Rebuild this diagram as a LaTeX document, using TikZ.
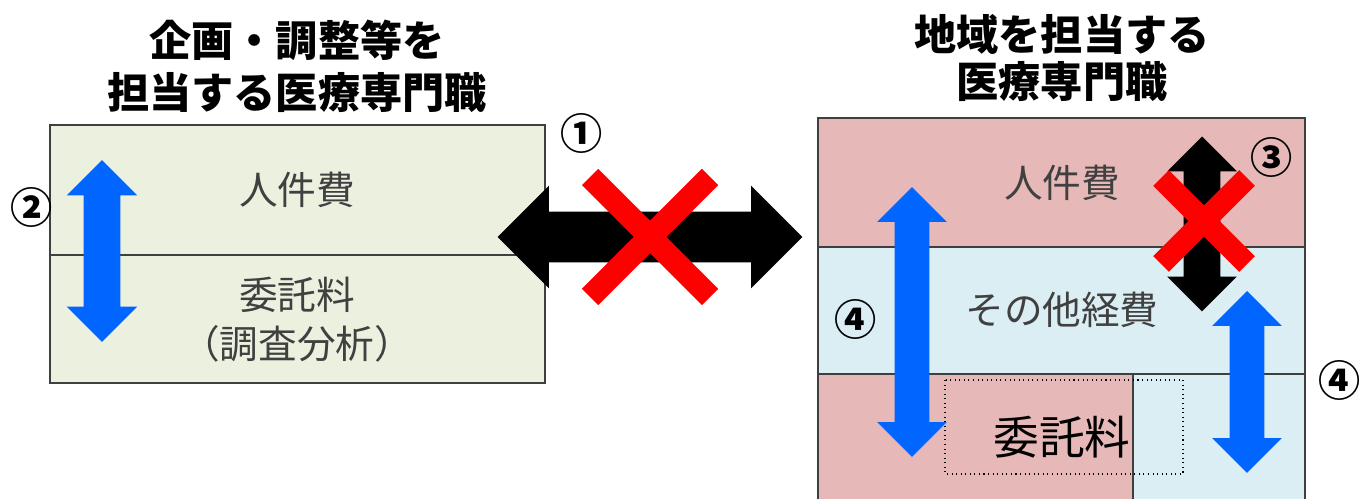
\documentclass[tikz,border=0pt]{standalone}
\usepackage{fontspec}
\setmainfont{Noto Sans CJK JP}
\usetikzlibrary{shapes.arrows,positioning}
\definecolor{kikaku}{HTML}{EBF0DF}
\definecolor{jinken}{HTML}{E6B8B7}
\definecolor{sonota}{HTML}{DAEEF3}
\definecolor{framegray}{HTML}{3F3F3F}
\definecolor{textgray}{HTML}{404040}
\definecolor{arrowblue}{HTML}{0066FF}

\begin{document}
\begin{tikzpicture}[x=0.02cm, y=-0.02cm]
        \tikzstyle{frame}=[draw=framegray, line width=1.1pt]
        \tikzstyle{cost}=[text=textgray, font=\fontsize{22}{28}\selectfont, align=center]
        \tikzstyle{title}=[font=\bfseries\fontsize{24}{29.5}\selectfont, align=center]
        \tikzstyle{num}=[font=\bfseries\fontsize{24}{24}\selectfont, inner sep=0pt]
        \tikzstyle{blockarrow}=[double arrow, draw=none, inner sep=0pt, double arrow tip angle=90]
        \tikzstyle{cross}=[draw=red, line width=0.44cm]
        \useasboundingbox (0,0) rectangle (1359,499);

        % left: planning staff
        \node[title] (titleL) at (297,66) {企画・調整等を\\担当する医療専門職};
        \fill[kikaku] (50,125) rectangle (545,383);
        \draw[frame] (50,125) rectangle (545,383);
        \draw[frame] (50,255) -- (545,255);
        \node[cost] (jinkenL) at (297,190) {人件費};
        \node[cost] (itakuL) at (297,320) {委託料\\（調査分析）};
        \node[blockarrow, fill=arrowblue, rotate=90, minimum height=3.64cm,
              minimum width=1.4cm, inner ysep=0.36cm, double arrow head extend=0.34cm] (arrowL) at (102,251) {};
        \node[num] (n2) at (32,207) {②};

        % right: regional staff
        \node[title, font=\bfseries\fontsize{24}{26.6}\selectfont] (titleR) at (1062,58) {地域を担当する\\医療専門職};
        \fill[jinken] (818,118) rectangle (1305,247);
        \fill[sonota] (818,247) rectangle (1305,374);
        \fill[jinken] (818,374) rectangle (1133,499);
        \fill[sonota] (1133,374) rectangle (1305,499);
        \draw[frame] (818,499) -- (818,118) -- (1305,118) -- (1305,499);
        \draw[frame] (818,247) -- (1305,247);
        \draw[frame] (818,374) -- (1305,374);
        \draw[frame] (1133,374) -- (1133,499);
        \draw[dotted, line width=0.6pt] (945,380) rectangle (1183,474);
        \node[cost] (jinkenR) at (1062,183) {人件費};
        \node[cost] (sonotaR) at (1062,310) {その他経費};
        \node[cost, font=\fontsize{26}{30}\selectfont, text=black] (itakuR) at (1062,437) {委託料};
        \node[blockarrow, fill=arrowblue, rotate=90, minimum height=5.4cm,
              minimum width=1.38cm, inner ysep=0.34cm, double arrow head extend=0.35cm] (arrowR1) at (912,322) {};
        \node[blockarrow, fill=arrowblue, rotate=90, minimum height=3.64cm,
              minimum width=1.38cm, inner ysep=0.34cm, double arrow head extend=0.35cm] (arrowR2) at (1247,382) {};
        \node[blockarrow, fill=black, rotate=90, minimum height=3.5cm,
              minimum width=1.38cm, inner ysep=0.36cm, double arrow head extend=0.33cm] (arrowR3) at (1202,224) {};
        \draw[cross] (1161,178) -- (1247,264);
        \draw[cross] (1161,264) -- (1247,178);
        \node[num] (n3) at (1272,157) {③};
        \node[num] (n4a) at (856,319) {④};
        \node[num] (n4b) at (1340,380) {④};

        % between the two
        \node[blockarrow, fill=black, minimum height=6.1cm,
              minimum width=2.04cm, inner ysep=0.5cm, double arrow head extend=0.52cm] (arrowM) at (650,237) {};
        \draw[cross, line width=0.46cm] (590,177) -- (710,297);
        \draw[cross, line width=0.46cm] (590,297) -- (710,177);
        \node[num] (n1) at (582,133) {①};
\end{tikzpicture}
\end{document}
